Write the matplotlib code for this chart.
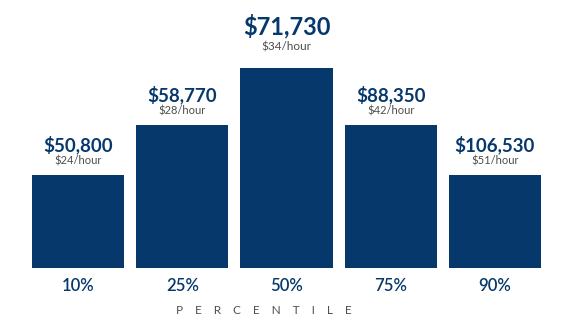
import matplotlib.pyplot as plt

# Data
percentiles = ['10%', '25%', '50%', '75%', '90%']
annual = ['$50,800', '$58,770', '$71,730', '$88,350', '$106,530']
hourly = ['$24/hour', '$28/hour', '$34/hour', '$42/hour', '$51/hour']
# bar heights are stylised in the original (not proportional to wage)
bar_heights = [93, 143, 200, 143, 93]

navy = '#06386b'
grey = '#4d4d4d'
plt.rcParams['font.family'] = ['Lato', 'DejaVu Sans']

fig = plt.figure(figsize=(5.73, 3.30), dpi=100)
ax = fig.add_axes([0, 62 / 330, 1, 268 / 330])

x = range(len(percentiles))
ax.bar(x, bar_heights, width=0.885, color=navy)
ax.set_xlim(-0.75, 4.75)
ax.set_ylim(0, 268)

for i, h in enumerate(bar_heights):
    big = i == 2
    ax.annotate(annual[i], (i, h), xytext=(0, 42 if big else 30), textcoords='offset pixels',
                ha='center', va='center', fontsize=17 if big else 13.5,
                fontweight='bold', color=navy)
    ax.annotate(hourly[i], (i, h), xytext=(0, 21 if big else 14), textcoords='offset pixels',
                ha='center', va='center', fontsize=8.5 if big else 8, color=grey)
    ax.annotate(percentiles[i], (i, 0), xytext=(0, -18), textcoords='offset pixels',
                ha='center', va='center', fontsize=12, fontweight='semibold', color=navy)

fig.text(0.5 * (180 + 347) / 573, 1 - 310 / 330, '    '.join('PERCENTILE'),
         ha='center', va='center', fontsize=8.5, color=grey)

ax.axis('off')
fig.savefig('out.png', dpi=100)
